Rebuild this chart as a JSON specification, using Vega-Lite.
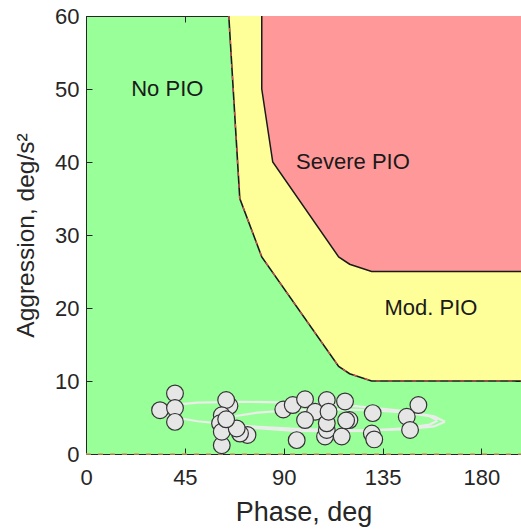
{
  "$schema": "https://vega.github.io/schema/vega-lite/v6.json",
  "width": 435,
  "height": 438,
  "autosize": {"type": "none"},
  "padding": {"left": 86, "top": 16, "right": 0, "bottom": 76},
  "background": "white",
  "config": {
    "view": {"fill": "#99FF99", "stroke": "#262626", "strokeWidth": 1},
    "font": "Liberation Sans",
    "axis": {
      "labelFont": "Liberation Sans",
      "labelFontSize": 22,
      "labelColor": "#262626",
      "labelFlush": false,
      "titleFont": "Liberation Sans",
      "titleFontSize": 27,
      "titleFontWeight": "normal",
      "titleColor": "#262626",
      "domainColor": "#262626",
      "tickColor": "#262626",
      "grid": false
    }
  },
  "datasets": {
    "yellow": [
      {"aggr": 10, "phase": 130},
      {"aggr": 11, "phase": 120},
      {"aggr": 12, "phase": 115},
      {"aggr": 27, "phase": 80},
      {"aggr": 35, "phase": 70},
      {"aggr": 60, "phase": 65}
    ],
    "red": [
      {"aggr": 25, "phase": 130},
      {"aggr": 26, "phase": 120},
      {"aggr": 27, "phase": 115},
      {"aggr": 40, "phase": 85},
      {"aggr": 50, "phase": 80},
      {"aggr": 60, "phase": 80}
    ],
    "modBoundary": [
      {"k": 0, "phase": 65, "aggr": 60},
      {"k": 1, "phase": 70, "aggr": 35},
      {"k": 2, "phase": 80, "aggr": 27},
      {"k": 3, "phase": 115, "aggr": 12},
      {"k": 4, "phase": 120, "aggr": 11},
      {"k": 5, "phase": 130, "aggr": 10},
      {"k": 6, "phase": 198, "aggr": 10}
    ],
    "sevBoundary": [
      {"k": 0, "phase": 80, "aggr": 60},
      {"k": 1, "phase": 80, "aggr": 50},
      {"k": 2, "phase": 85, "aggr": 40},
      {"k": 3, "phase": 115, "aggr": 27},
      {"k": 4, "phase": 120, "aggr": 26},
      {"k": 5, "phase": 130, "aggr": 25},
      {"k": 6, "phase": 198, "aggr": 25}
    ],
    "floor": [
      {"phase": 0, "aggr": 0},
      {"phase": 198, "aggr": 0}
    ],
    "ellipses": [
      {"e": "A", "k": 0, "phase": 163.4, "aggr": 4.41},
      {"e": "A", "k": 1, "phase": 158.4, "aggr": 5.16},
      {"e": "A", "k": 2, "phase": 144.1, "aggr": 5.91},
      {"e": "A", "k": 3, "phase": 122.7, "aggr": 6.56},
      {"e": "A", "k": 4, "phase": 97.4, "aggr": 7.0},
      {"e": "A", "k": 5, "phase": 72.1, "aggr": 7.16},
      {"e": "A", "k": 6, "phase": 50.7, "aggr": 7.03},
      {"e": "A", "k": 7, "phase": 36.4, "aggr": 6.62},
      {"e": "A", "k": 8, "phase": 31.4, "aggr": 5.99},
      {"e": "A", "k": 9, "phase": 36.4, "aggr": 5.24},
      {"e": "A", "k": 10, "phase": 50.7, "aggr": 4.49},
      {"e": "A", "k": 11, "phase": 72.1, "aggr": 3.84},
      {"e": "A", "k": 12, "phase": 97.4, "aggr": 3.4},
      {"e": "A", "k": 13, "phase": 122.7, "aggr": 3.24},
      {"e": "A", "k": 14, "phase": 144.1, "aggr": 3.37},
      {"e": "A", "k": 15, "phase": 158.4, "aggr": 3.78},
      {"e": "A", "k": 16, "phase": 163.4, "aggr": 4.41},
      {"e": "B", "k": 0, "phase": 160, "aggr": 4.6},
      {"e": "B", "k": 1, "phase": 156.4, "aggr": 5.17},
      {"e": "B", "k": 2, "phase": 145.9, "aggr": 5.66},
      {"e": "B", "k": 3, "phase": 130.4, "aggr": 5.99},
      {"e": "B", "k": 4, "phase": 112, "aggr": 6.1},
      {"e": "B", "k": 5, "phase": 93.6, "aggr": 5.99},
      {"e": "B", "k": 6, "phase": 78.1, "aggr": 5.66},
      {"e": "B", "k": 7, "phase": 67.6, "aggr": 5.17},
      {"e": "B", "k": 8, "phase": 64, "aggr": 4.6},
      {"e": "B", "k": 9, "phase": 67.6, "aggr": 4.03},
      {"e": "B", "k": 10, "phase": 78.1, "aggr": 3.54},
      {"e": "B", "k": 11, "phase": 93.6, "aggr": 3.21},
      {"e": "B", "k": 12, "phase": 112, "aggr": 3.1},
      {"e": "B", "k": 13, "phase": 130.4, "aggr": 3.21},
      {"e": "B", "k": 14, "phase": 145.9, "aggr": 3.54},
      {"e": "B", "k": 15, "phase": 156.4, "aggr": 4.03},
      {"e": "B", "k": 16, "phase": 160, "aggr": 4.6}
    ],
    "points": [
      {"phase": 33.7, "aggr": 6.0},
      {"phase": 40.5, "aggr": 8.3},
      {"phase": 40.5, "aggr": 6.3},
      {"phase": 40.5, "aggr": 4.4},
      {"phase": 65.3, "aggr": 6.6},
      {"phase": 63.8, "aggr": 7.4},
      {"phase": 61.8, "aggr": 5.3},
      {"phase": 61.0, "aggr": 4.2},
      {"phase": 61.8, "aggr": 1.2},
      {"phase": 61.8, "aggr": 3.05},
      {"phase": 73.5, "aggr": 2.6},
      {"phase": 70.1, "aggr": 2.8},
      {"phase": 68.6, "aggr": 3.5},
      {"phase": 63.8, "aggr": 4.75},
      {"phase": 89.8, "aggr": 6.1},
      {"phase": 94.1, "aggr": 6.7},
      {"phase": 99.7, "aggr": 7.5},
      {"phase": 104.3, "aggr": 5.8},
      {"phase": 99.7, "aggr": 4.65},
      {"phase": 95.9, "aggr": 1.9},
      {"phase": 109.6, "aggr": 7.4},
      {"phase": 108.8, "aggr": 2.4},
      {"phase": 109.6, "aggr": 3.3},
      {"phase": 109.6, "aggr": 4.2},
      {"phase": 110.4, "aggr": 5.8},
      {"phase": 117.9, "aggr": 7.2},
      {"phase": 116.4, "aggr": 2.4},
      {"phase": 119.9, "aggr": 4.65},
      {"phase": 118.4, "aggr": 4.6},
      {"phase": 130.5, "aggr": 5.6},
      {"phase": 130.1, "aggr": 2.8},
      {"phase": 131.2, "aggr": 2.0},
      {"phase": 151.3, "aggr": 6.7},
      {"phase": 146.0, "aggr": 5.1},
      {"phase": 147.5, "aggr": 3.3}
    ],
    "labels": [
      {"phase": 37, "aggr": 50, "text": "No PIO"},
      {"phase": 121.5, "aggr": 40, "text": "Severe PIO"},
      {"phase": 157, "aggr": 20, "text": "Mod. PIO"}
    ]
  },
  "layer": [
    {
      "data": {"name": "yellow"},
      "mark": {"type": "area", "orient": "horizontal", "color": "#FFFF99", "clip": true},
      "encoding": {
        "y": {"field": "aggr", "type": "quantitative", "scale": {"domain": [0, 60], "nice": false},
          "axis": {"values": [0, 10, 20, 30, 40, 50, 60], "tickSize": -6, "labelPadding": 13, "title": "Aggression, deg/s²", "titleFontSize": 24.5, "titlePadding": 16}},
        "x": {"field": "phase", "type": "quantitative", "scale": {"domain": [0, 198], "nice": false},
          "axis": {"values": [0, 45, 90, 135, 180], "tickSize": -6, "labelPadding": 19, "title": "Phase, deg", "titlePadding": 11}},
        "x2": {"datum": 198}
      }
    },
    {
      "data": {"name": "red"},
      "mark": {"type": "area", "orient": "horizontal", "color": "#FF9999", "clip": true},
      "encoding": {
        "y": {"field": "aggr", "type": "quantitative", "axis": null},
        "x": {"field": "phase", "type": "quantitative", "axis": null},
        "x2": {"datum": 198}
      }
    },
    {
      "data": {"name": "sevBoundary"},
      "mark": {"type": "line", "color": "#1a1a1a", "strokeWidth": 1.5, "clip": true},
      "encoding": {
        "x": {"field": "phase", "type": "quantitative", "axis": null},
        "y": {"field": "aggr", "type": "quantitative", "axis": null},
        "order": {"field": "k"}
      }
    },
    {
      "data": {"name": "modBoundary"},
      "mark": {"type": "line", "color": "#1a1a1a", "strokeWidth": 1.6, "clip": true},
      "encoding": {
        "x": {"field": "phase", "type": "quantitative", "axis": null},
        "y": {"field": "aggr", "type": "quantitative", "axis": null},
        "order": {"field": "k"}
      }
    },
    {
      "data": {"name": "modBoundary"},
      "mark": {"type": "line", "color": "#D9534F", "strokeWidth": 1.2, "strokeDash": [4, 8], "clip": true},
      "encoding": {
        "x": {"field": "phase", "type": "quantitative", "axis": null},
        "y": {"field": "aggr", "type": "quantitative", "axis": null},
        "order": {"field": "k"}
      }
    },
    {
      "data": {"name": "floor"},
      "mark": {"type": "line", "color": "#C9A35B", "strokeWidth": 1.6, "strokeDash": [5, 7]},
      "encoding": {
        "x": {"field": "phase", "type": "quantitative", "axis": null},
        "y": {"field": "aggr", "type": "quantitative", "axis": null}
      }
    },
    {
      "data": {"name": "ellipses"},
      "mark": {"type": "line", "color": "#ECECEC", "strokeWidth": 2.2, "clip": true},
      "encoding": {
        "x": {"field": "phase", "type": "quantitative", "axis": null},
        "y": {"field": "aggr", "type": "quantitative", "axis": null},
        "detail": {"field": "e"},
        "order": {"field": "k"}
      }
    },
    {
      "data": {"name": "points"},
      "mark": {"type": "point", "shape": "circle", "filled": true, "fill": "#E6E6E6", "stroke": "#333333", "strokeWidth": 1.2, "size": 280, "opacity": 1},
      "encoding": {
        "x": {"field": "phase", "type": "quantitative", "axis": null},
        "y": {"field": "aggr", "type": "quantitative", "axis": null}
      }
    },
    {
      "data": {"name": "labels"},
      "mark": {"type": "text", "font": "Liberation Sans", "fontSize": 22, "color": "#1a1a1a", "baseline": "middle", "align": "center"},
      "encoding": {
        "x": {"field": "phase", "type": "quantitative",
          "axis": {"orient": "top", "values": [0, 45, 90, 135, 180], "tickSize": -6, "labels": false, "title": null}},
        "y": {"field": "aggr", "type": "quantitative",
          "axis": {"orient": "right", "values": [0, 10, 20, 30, 40, 50, 60], "tickSize": -6, "labels": false, "title": null}},
        "text": {"field": "text"}
      }
    }
  ],
  "resolve": {"axis": {"x": "independent", "y": "independent"}}
}
